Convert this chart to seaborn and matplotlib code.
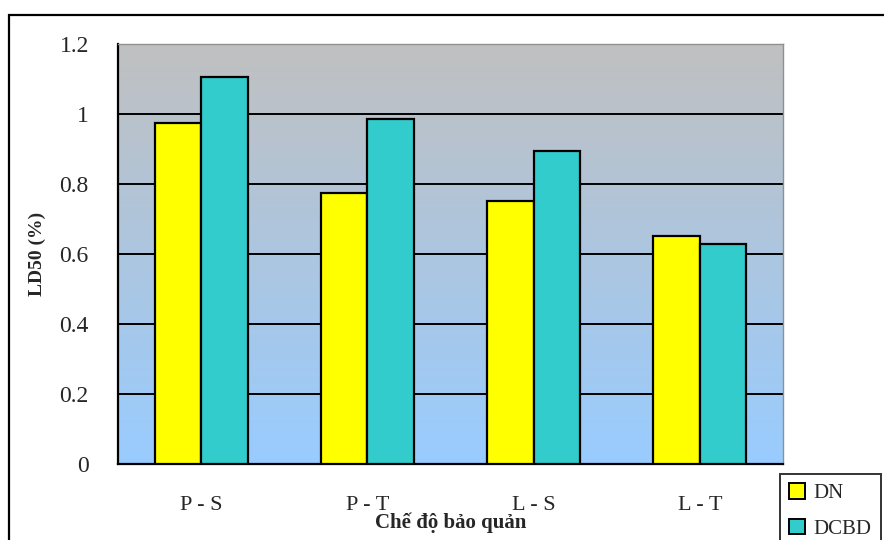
import numpy as np
import pandas as pd
import matplotlib
matplotlib.use("Agg")
import matplotlib.pyplot as plt
import seaborn as sns
from matplotlib.colors import LinearSegmentedColormap
from matplotlib.patches import Rectangle

# Data
categories = ["P - S", "P - T", "L - S", "L - T"]
dn_values = [0.975, 0.773, 0.752, 0.651]
dcbd_values = [1.105, 0.985, 0.894, 0.630]
series_names = ["DN", "DCBD"]
yticks = [0, 0.2, 0.4, 0.6, 0.8, 1.0, 1.2]
ytick_labels = ["0", "0.2", "0.4", "0.6", "0.8", "1", "1.2"]

df = pd.DataFrame({
    "cat": categories * 2,
    "series": [series_names[0]] * 4 + [series_names[1]] * 4,
    "value": dn_values + dcbd_values,
})

sns.set_style("white")
plt.rcParams["font.family"] = ["Liberation Serif", "DejaVu Serif"]

fig = plt.figure(figsize=(8.84, 5.4), dpi=100)
ax = fig.add_axes([118 / 884, 1 - 464 / 540, 665 / 884, 420 / 540])

# gradient background: gray at top -> light blue at bottom
cmap = LinearSegmentedColormap.from_list("bg", ["#99ccff", "#c0c0c0"])
grad = np.linspace(0, 1, 256).reshape(-1, 1)
ax.imshow(grad, cmap=cmap, aspect="auto", origin="lower",
          extent=[0, 1, 0, 1], transform=ax.transAxes, zorder=0)

sns.barplot(data=df, x="cat", y="value", hue="series", order=categories,
            hue_order=series_names, palette=["#ffff00", "#33cccc"],
            saturation=1, width=0.56, gap=0, edgecolor="black", linewidth=1.6,
            errorbar=None, ax=ax, zorder=3, legend=False)

ax.set_xlim(-0.5, 3.5)
ax.set_ylim(0, 1.2)
ax.set_yticks(yticks)
ax.set_yticklabels(ytick_labels, fontsize=17)
for y in yticks[1:-1]:
    ax.axhline(y, color="black", lw=1.4, zorder=1)

ax.set_xticks(range(4))
ax.set_xticklabels(categories, fontsize=16)
ax.set_xticks(np.arange(-0.5, 4, 1), minor=True)
ax.tick_params(axis="x", which="major", length=0, pad=23)
ax.tick_params(axis="x", which="minor", length=7, width=1.4, direction="out", color="black")
ax.tick_params(axis="y", length=9, width=1.4, direction="out", color="black", pad=12)

for s in ["left", "bottom"]:
    ax.spines[s].set_color("black")
    ax.spines[s].set_linewidth(1.6)
ax.spines["top"].set_color("#909090")
ax.spines["right"].set_color("#909090")
ax.spines["top"].set_linewidth(1)
ax.spines["right"].set_linewidth(1)

ax.set_xlabel("Chế độ bảo quản", fontsize=15, fontweight="bold", labelpad=-2)
ax.set_ylabel("LD50 (%)", fontsize=14, fontweight="bold", labelpad=10)

# legend outside the plot area
handles = [Rectangle((0, 0), 1, 1, facecolor=c, edgecolor="black", lw=1.4)
           for c in ["#ffff00", "#33cccc"]]
leg = fig.legend(handles, series_names, loc="upper left",
                 bbox_to_anchor=(780 / 884, 1 - 474 / 540), fontsize=15,
                 frameon=True, fancybox=False, edgecolor="black",
                 handlelength=0.75, handleheight=0.75, handletextpad=0.4,
                 borderpad=0.45, labelspacing=0.75, borderaxespad=0)
leg.get_frame().set_linewidth(1.4)

# outer chart border
fig.patches.append(Rectangle((9 / 884, -0.05), 1.0, 1 - 15 / 540 + 0.05,
                             transform=fig.transFigure, fill=False,
                             edgecolor="black", lw=1.6))

fig.savefig("out.png", dpi=100)
